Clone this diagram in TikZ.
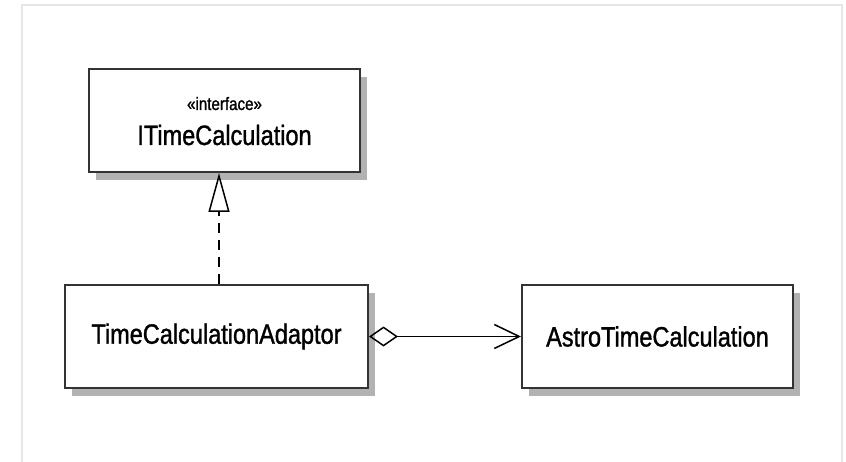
\documentclass[tikz,border=0pt]{standalone}
\usepackage{fontspec}
\setmainfont{Liberation Sans}
\newfontfamily\umlfont[FakeStretch=0.84, FakeBold=1.2]{Liberation Sans}
\usetikzlibrary{arrows.meta,shadows}
\definecolor{frameline}{HTML}{E6E6E6}
\definecolor{boxline}{HTML}{333333}
\tikzset{
  classbox/.style={draw=boxline, line width=2pt, fill=white, rectangle,
    minimum height=103pt, inner sep=0pt,
    drop shadow={shadow xshift=7pt, shadow yshift=-8pt, fill=black!30, opacity=1},
    font=\umlfont\fontsize{28}{30}\selectfont},
  stereo/.style={font=\umlfont\fontsize{18}{20}\selectfont, inner sep=0pt, anchor=base},
  cname/.style={font=\umlfont\fontsize{28}{30}\selectfont, inner sep=0pt, anchor=base},
  realize/.style={line width=1.5pt, dash pattern=on 10pt off 7pt,
    -{Triangle[open, length=39pt, width=21pt, line width=1.5pt]}},
  aggregate/.style={line width=1.5pt,
    {Diamond[open, length=29pt, width=20pt, line width=1.5pt]}-{Straight Barb[length=25pt, width=24pt, line width=1.5pt]}}
}
\begin{document}
\begin{tikzpicture}[x=1pt,y=-1pt]
\useasboundingbox (0,0) rectangle (846,462);
% frame
\coordinate (fbl) at (22,462);
\coordinate (ftl) at (22,5);
\coordinate (ftr) at (842,5);
\coordinate (fbr) at (842,462);
\draw[frameline, line width=1.5pt] (fbl) -- (ftl) -- (ftr) -- (fbr);
% boxes
\node[classbox, minimum width=271pt] (b1) at (224.5,120.5) {};
\node[stereo] (st) at ([yshift=10.5pt]b1.center) {«interface»};
\node[cname] (nm) at ([yshift=-24.5pt]b1.center) {ITimeCalculation};
\node[classbox, minimum width=303pt] (b2) at (216.5,336.5) {TimeCalculationAdaptor};
\node[classbox, minimum width=271pt] (b3) at (657.5,336.5) {AstroTimeCalculation};
% connectors
\draw[realize] ([xshift=2.5pt]b2.north) -- ([xshift=2.5pt]b2.north |- b1.south);
\draw[aggregate] (b2.east) -- (b3.west);
\end{tikzpicture}
\end{document}
